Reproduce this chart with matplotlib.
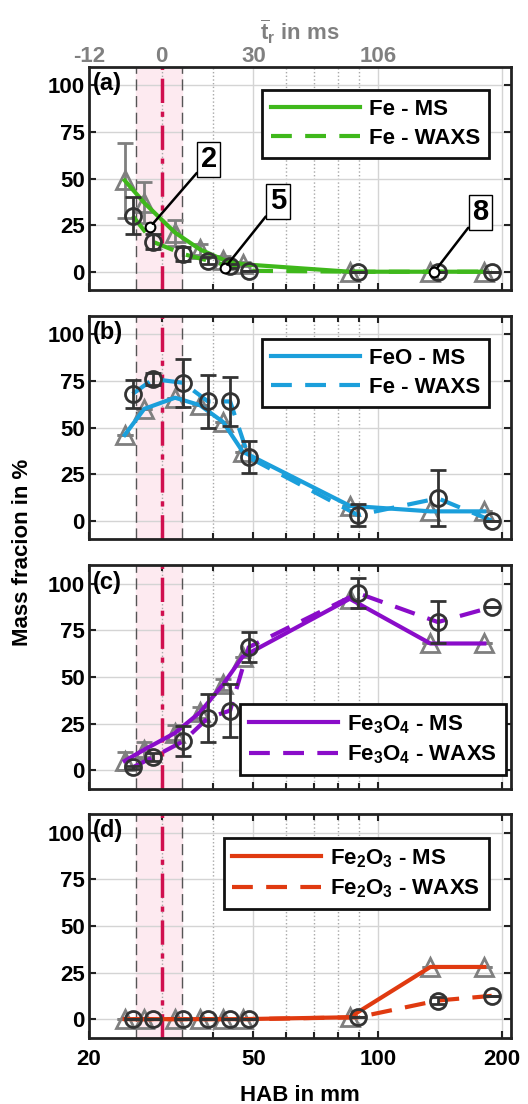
import numpy as np
import matplotlib
matplotlib.use('Agg')
import matplotlib.pyplot as plt
from matplotlib.ticker import FixedLocator, NullFormatter, FixedFormatter

plt.rcParams['font.family'] = ['Liberation Sans', 'DejaVu Sans']
plt.rcParams['font.weight'] = 'bold'
plt.rcParams['axes.labelweight'] = 'bold'
plt.rcParams['mathtext.fontset'] = 'custom'
plt.rcParams['mathtext.rm'] = 'Liberation Sans:bold'
plt.rcParams['mathtext.bf'] = 'Liberation Sans:bold'
plt.rcParams['mathtext.it'] = 'Liberation Sans:bold'
plt.rcParams['mathtext.default'] = 'bf'

# HAB positions (mm) of MS (triangles) and WAXS (circles) points
x_ms = [24.4, 27.2, 32.3, 37.1, 42.2, 47.1, 85.5, 134, 181]
x_waxs = [25.5, 28.6, 33.8, 38.8, 43.9, 48.7, 89.5, 139.7, 188.6]

# (a) Fe
fe_ms = [49, 37, 21, 12, 6.5, 4, 0, 0, 0]
fe_ms_err = [20, 11, 7, 3, 2, 1, 0, 0, 0]
fe_waxs = [30, 16, 9.5, 6, 3, 0.5, 0, 0, 0]
fe_waxs_err = [10, 4, 4, 2, 1, 0, 0, 0, 0]

# (b) FeO
feo_ms = [46, 60, 66, 62, 53, 37, 8, 5, 5]
feo_ms_err = [0, 0, 0, 0, 0, 0, 0, 0, 0]
feo_waxs = [68, 76, 74, 64, 64, 34, 3, 12, 0]
feo_waxs_err = [7.5, 3, 13, 14, 13, 8.5, 6, 15, 0]

# (c) Fe3O4
fe3o4_ms = [5, 11, 20, 31, 46, 61, 92, 68, 68]
fe3o4_ms_err = [5, 4, 4, 3, 3, 0, 0, 0, 0]
fe3o4_waxs = [1.5, 7, 15.5, 28, 32, 66, 95, 79.5, 87.5]
fe3o4_waxs_err = [1, 2, 8, 13, 14, 8, 8, 11.5, 0]

# (d) Fe2O3
fe2o3_ms = [0, 0, 0, 0, 0, 0, 1, 28, 28]
fe2o3_ms_err = [0, 0, 0, 0, 0, 0, 0, 0, 0]
fe2o3_waxs = [0, 0, 0, 0, 0, 0, 1, 10, 12.5]
fe2o3_waxs_err = [0, 0, 0, 0, 0, 0, 0, 2, 0]

# sample annotations in (a)
sample_labels = ['2', '5', '8']
sample_x = [28.1, 42.6, 137]
sample_y = [24, 2, 0]
sample_text_x = [39.0, 57.3, 177]
sample_text_y = [60.5, 37.8, 32]

# residence time axis
tr_pos = [20, 30, 50, 100]
tr_labels = ['-12', '0', '30', '106']

panels = [
    ('(a)', fe_ms, fe_ms_err, fe_waxs, fe_waxs_err, '#3fb81b',
     ['Fe - MS', 'Fe - WAXS'], 'upper right', (0.948, 0.896)),
    ('(b)', feo_ms, feo_ms_err, feo_waxs, feo_waxs_err, '#1b9fdb',
     ['FeO - MS', 'Fe - WAXS'], 'upper right', (0.948, 0.896)),
    ('(c)', fe3o4_ms, fe3o4_ms_err, fe3o4_waxs, fe3o4_waxs_err, '#8a0cc9',
     [r'Fe$_{3}$O$_{4}$ - MS', r'Fe$_{3}$O$_{4}$ - WAXS'], 'lower right', (0.988, 0.062)),
    ('(d)', fe2o3_ms, fe2o3_ms_err, fe2o3_waxs, fe2o3_waxs_err, '#e03a10',
     [r'Fe$_{2}$O$_{3}$ - MS', r'Fe$_{2}$O$_{3}$ - WAXS'], 'upper right', (0.948, 0.893)),
]

fig = plt.figure(figsize=(5.28, 11.04), dpi=100)
bottoms = [0.7370, 0.5115, 0.2855, 0.0600]
left, width, height = 0.1686, 0.7992, 0.2025
fs = 16

axes = []
for i, (lab, ms, ms_err, wx, wx_err, col, leg, loc, anchor) in enumerate(panels):
    ax = fig.add_axes([left, bottoms[i], width, height])
    ax.set_xscale('log')
    ax.set_xlim(20, 210)
    ax.set_ylim(-10, 110)

    # injection region
    ax.axvspan(26.0, 33.6, color='#fdeaf0', zorder=0)
    ax.axvline(26.0, color='#555555', lw=1, dashes=(8, 4), zorder=1)
    ax.axvline(33.6, color='#555555', lw=1, dashes=(8, 4), zorder=1)
    ax.axvline(30, color='#d0104f', lw=2.5, dashes=(7, 2.5, 1.5, 2.5), zorder=2)

    # MS points
    ax.errorbar(x_ms, ms, yerr=ms_err, fmt='^', ms=13, mfc='none', mec='#7f7f7f',
                mew=2, ecolor='#7f7f7f', elinewidth=2, capsize=6, capthick=2, zorder=3)
    l1, = ax.plot(x_ms, ms, '-', color=col, lw=3, zorder=4)
    l2, = ax.plot(x_waxs, wx, color=col, lw=3, dashes=(5, 3.2), zorder=4)
    # WAXS points
    ax.errorbar(x_waxs, wx, yerr=wx_err, fmt='o', ms=11.5, mfc='none', mec='#333333',
                mew=2, ecolor='#333333', elinewidth=2, capsize=6, capthick=2, zorder=5)

    ax.xaxis.set_major_locator(FixedLocator([20, 50, 100, 200]))
    ax.xaxis.set_minor_locator(FixedLocator([30, 40, 60, 70, 80, 90]))
    ax.xaxis.set_minor_formatter(NullFormatter())
    if i == 3:
        ax.xaxis.set_major_formatter(FixedFormatter(['20', '50', '100', '200']))
        ax.set_xlabel('HAB in mm', fontsize=fs, labelpad=11)
    else:
        ax.xaxis.set_major_formatter(NullFormatter())
    ax.set_yticks([0, 25, 50, 75, 100])
    ax.tick_params(axis='both', which='both', direction='in', top=True, right=True,
                   labelsize=fs, width=1.5, color='#222222')
    ax.tick_params(axis='both', which='major', length=5, pad=3)
    ax.tick_params(axis='x', which='minor', length=4)
    ax.tick_params(axis='x', which='major', pad=8)
    ax.grid(True, which='major', color='#d4d4d4', lw=1, zorder=0)
    ax.grid(True, which='minor', axis='x', color='#a8a8a8', lw=1, linestyle=':', zorder=0)
    ax.set_axisbelow(True)
    for s in ax.spines.values():
        s.set_linewidth(2)
        s.set_color('#222222')
        s.set_zorder(6)

    ax.text(0.008, 0.925, lab, transform=ax.transAxes, fontsize=fs + 1, fontweight='bold',
            ha='left', va='center', zorder=7)

    lg = ax.legend([l1, l2], leg, loc=loc, bbox_to_anchor=anchor, borderaxespad=0,
                   fontsize=fs, handlelength=4.0, fancybox=False, framealpha=1,
                   edgecolor='#111111', borderpad=0.4, labelspacing=0.35, handletextpad=0.4)
    lg.get_frame().set_linewidth(2)
    lg.set_zorder(8)
    axes.append(ax)

# sample annotations on (a)
ax_a = axes[0]
ax_a.plot(sample_x, sample_y, 'o', ms=7, mfc='white', mec='black', mew=1.5, zorder=9)
for lab, sx, sy, tx, ty in zip(sample_labels, sample_x, sample_y, sample_text_x, sample_text_y):
    ax_a.annotate(lab, xy=(sx, sy), xytext=(tx, ty), fontsize=21, fontweight='bold',
                  ha='center', va='center', zorder=9,
                  bbox=dict(boxstyle='square,pad=0.12', fc='white', ec='black', lw=1),
                  arrowprops=dict(arrowstyle='-', color='black', lw=1.8, shrinkA=0, shrinkB=3))

# residence time axis on top
ax_top = ax_a.twiny()
ax_top.set_xscale('log')
ax_top.set_xlim(ax_a.get_xlim())
ax_top.xaxis.set_major_locator(FixedLocator(tr_pos))
ax_top.xaxis.set_major_formatter(FixedFormatter(tr_labels))
ax_top.xaxis.set_minor_locator(FixedLocator([]))
ax_top.tick_params(axis='x', length=0, labelsize=fs, labelcolor='#808080', pad=0)
ax_top.set_xlabel(r'$\overline{\mathbf{t}}_{\mathbf{r}}$ in ms', fontsize=fs, color='#808080', labelpad=4)
for s in ax_top.spines.values():
    s.set_visible(False)

fig.text(0.042, 0.5, 'Mass fracion in %', rotation=90, fontsize=fs, fontweight='bold',
         ha='center', va='center')

fig.savefig('out.png', dpi=100)
